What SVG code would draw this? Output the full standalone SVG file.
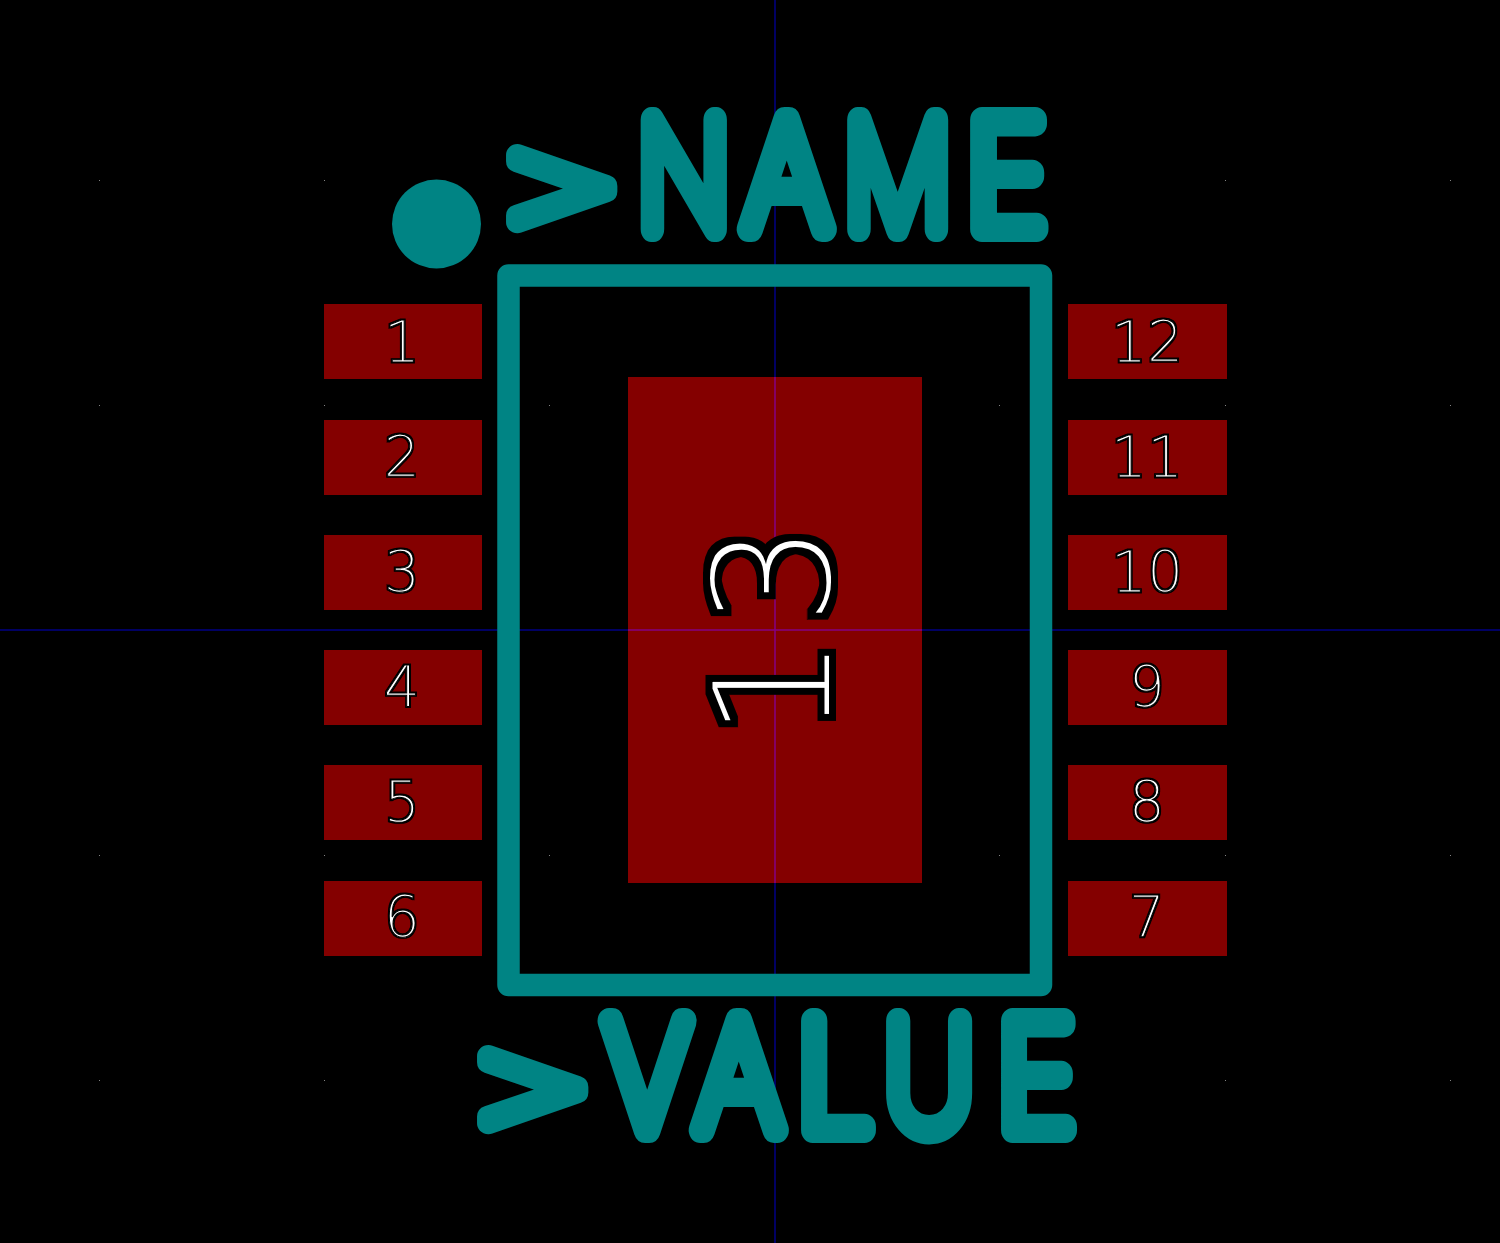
<svg xmlns="http://www.w3.org/2000/svg" width="1500" height="1243" viewBox="0 0 1500 1243">
<defs>
<filter id="halo1" x="-30%" y="-30%" width="160%" height="160%"><feMorphology in="SourceAlpha" operator="dilate" radius="1.2" result="d"/><feMerge><feMergeNode in="d"/><feMergeNode in="SourceGraphic"/></feMerge></filter>
<filter id="halo4" x="-30%" y="-30%" width="160%" height="160%"><feMorphology in="SourceAlpha" operator="dilate" radius="4.5" result="d"/><feMerge><feMergeNode in="d"/><feMergeNode in="SourceGraphic"/></feMerge></filter>
</defs>
<style>
.pad{fill:#840000}
.ax{stroke:#000084;stroke-width:1.5}
.axp{stroke:#840084;stroke-width:1.5}
.big{font-family:"Inter",sans-serif;font-weight:100;font-size:150px;fill:#008484;stroke:#008484;stroke-width:26;stroke-linejoin:round;stroke-linecap:round}
.gt{font-family:"DejaVu Sans",sans-serif;font-weight:200;font-size:136px;stroke-width:22px}
.num{font-family:"DejaVu Sans",sans-serif;font-weight:200;font-size:57px;fill:#fff;stroke:#000;stroke-width:1;text-anchor:middle;filter:url(#halo1)}
.n13{font-family:"DejaVu Sans",sans-serif;font-weight:200;font-size:162px;letter-spacing:10px;fill:#fff;stroke:#000;stroke-width:2;text-anchor:middle;filter:url(#halo4)}
.g{fill:#848484}
</style>
<rect width="1500" height="1243" fill="#000"/>
<g id="grid" class="g">
<rect x="99" y="180" width="1" height="1"/><rect x="324" y="180" width="1" height="1"/><rect x="1225" y="180" width="1" height="1"/><rect x="1450" y="180" width="1" height="1"/>
<rect x="99" y="405" width="1" height="1"/><rect x="324" y="405" width="1" height="1"/><rect x="549" y="405" width="1" height="1"/><rect x="999" y="405" width="1" height="1"/><rect x="1225" y="405" width="1" height="1"/><rect x="1450" y="405" width="1" height="1"/>
<rect x="99" y="855" width="1" height="1"/><rect x="324" y="855" width="1" height="1"/><rect x="549" y="855" width="1" height="1"/><rect x="999" y="855" width="1" height="1"/><rect x="1225" y="855" width="1" height="1"/><rect x="1450" y="855" width="1" height="1"/>
<rect x="99" y="1080" width="1" height="1"/><rect x="324" y="1080" width="1" height="1"/><rect x="1225" y="1080" width="1" height="1"/><rect x="1450" y="1080" width="1" height="1"/>
</g>
<g id="axes">
<line class="ax" x1="775" y1="0" x2="775" y2="1243"/>
<line class="ax" x1="0" y1="630" x2="1500" y2="630"/>
</g>
<g id="pad-13">
<rect class="pad" x="628" y="377" width="294" height="506"/>
<line class="axp" x1="775" y1="377" x2="775" y2="883"/>
<line class="axp" x1="628" y1="630" x2="922" y2="630"/>
<text class="n13" transform="translate(830 626) rotate(-90)">13</text>
</g>
<g id="pad-1"><rect class="pad" x="324" y="304" width="158" height="75"/><text class="num" x="402" y="362">1</text></g>
<g id="pad-2"><rect class="pad" x="324" y="420" width="158" height="75"/><text class="num" x="402" y="477">2</text></g>
<g id="pad-3"><rect class="pad" x="324" y="535" width="158" height="75"/><text class="num" x="402" y="592">3</text></g>
<g id="pad-4"><rect class="pad" x="324" y="650" width="158" height="75"/><text class="num" x="402" y="707">4</text></g>
<g id="pad-5"><rect class="pad" x="324" y="765" width="158" height="75"/><text class="num" x="402" y="822">5</text></g>
<g id="pad-6"><rect class="pad" x="324" y="881" width="158" height="75"/><text class="num" x="402" y="937">6</text></g>
<g id="pad-12"><rect class="pad" x="1068" y="304" width="159" height="75"/><text class="num" x="1147" y="362">12</text></g>
<g id="pad-11"><rect class="pad" x="1068" y="420" width="159" height="75"/><text class="num" x="1147" y="477">11</text></g>
<g id="pad-10"><rect class="pad" x="1068" y="535" width="159" height="75"/><text class="num" x="1147" y="592">10</text></g>
<g id="pad-9"><rect class="pad" x="1068" y="650" width="159" height="75"/><text class="num" x="1147" y="707">9</text></g>
<g id="pad-8"><rect class="pad" x="1068" y="765" width="159" height="75"/><text class="num" x="1147" y="822">8</text></g>
<g id="pad-7"><rect class="pad" x="1068" y="881" width="159" height="75"/><text class="num" x="1147" y="937">7</text></g>
<g id="outline">
<rect x="508.5" y="275.5" width="532.5" height="709.5" fill="none" stroke="#008484" stroke-width="22.5" stroke-linejoin="round"/>
<circle cx="436.5" cy="224" r="44.5" fill="#008484"/>
</g>
<g id="name-label"><text class="big" transform="scale(.8 1)" y="229"><tspan class="gt" x="628" y="231" textLength="148" lengthAdjust="spacingAndGlyphs">&gt;</tspan><tspan x="797" y="229">N</tspan><tspan x="930" y="229" textLength="107" lengthAdjust="spacingAndGlyphs">A</tspan><tspan x="1055" y="229">M</tspan><tspan x="1208" y="229" textLength="100" lengthAdjust="spacingAndGlyphs">E</tspan></text></g>
<g id="value-label"><text class="big" transform="scale(.8 1)" y="1130"><tspan class="gt" x="592" y="1132" textLength="148" lengthAdjust="spacingAndGlyphs">&gt;</tspan><tspan x="756" y="1130" textLength="106" lengthAdjust="spacingAndGlyphs">V</tspan><tspan x="870" y="1130" textLength="107" lengthAdjust="spacingAndGlyphs">A</tspan><tspan x="997" y="1130" textLength="94" lengthAdjust="spacingAndGlyphs">L</tspan><tspan x="1106" y="1130" textLength="111" lengthAdjust="spacingAndGlyphs">U</tspan><tspan x="1247" y="1130" textLength="97" lengthAdjust="spacingAndGlyphs">E</tspan></text></g>
</svg>
